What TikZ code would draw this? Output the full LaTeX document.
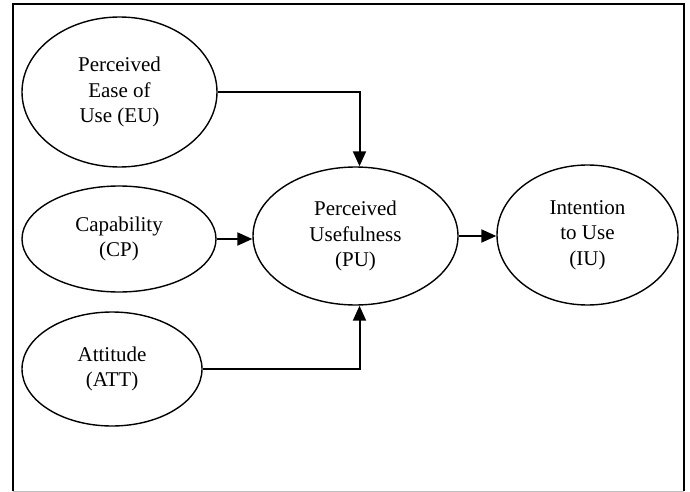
\documentclass[tikz,border=0pt]{standalone}
\usepackage{fontspec}
\setmainfont{Liberation Serif}
\usetikzlibrary{shapes.geometric,arrows.meta,calc}
\begin{document}
\begin{tikzpicture}[x=1pt,y=-1pt,
  construct/.style={draw,ellipse,line width=1.4pt,inner sep=0pt,align=center,
    font=\fontsize{21}{25.5}\selectfont},
  link/.style={line width=2pt,-{Triangle[length=15pt,width=13pt]}},
  plainlink/.style={line width=2pt}]
\useasboundingbox (0,0) rectangle (690,492);
\draw[line width=2pt] (13,491) -- (13,4) -- (684,4) -- (684,491);
\draw[line width=1pt,gray!50] (13,491) -- (684,491);
\node[construct,minimum width=195pt,minimum height=150pt] (EU) at (119.5,92) {Perceived\\Ease of\\Use (EU)};
\node[construct,minimum width=194pt,minimum height=106pt] (CP) at (119,239) {Capability\\(CP)};
\node[construct,minimum width=180pt,minimum height=114pt] (ATT) at (112,369) {Attitude\\(ATT)};
\node[construct,minimum width=205pt,minimum height=138pt] (PU) at (355.5,236) {Perceived\\Usefulness\\(PU)};
\node[construct,minimum width=181pt,minimum height=140pt] (IU) at (587.5,235) {Intention\\to Use\\(IU)};
\draw[link] (EU.east) -| ([xshift=4pt]PU.north);
\draw[link] (ATT.east) -| ([xshift=4pt]PU.south);
\draw[link] (CP.east) -- (CP.east -| PU.west);
\draw[link] (PU.east) -- (PU.east -| IU.west);
\end{tikzpicture}
\end{document}
